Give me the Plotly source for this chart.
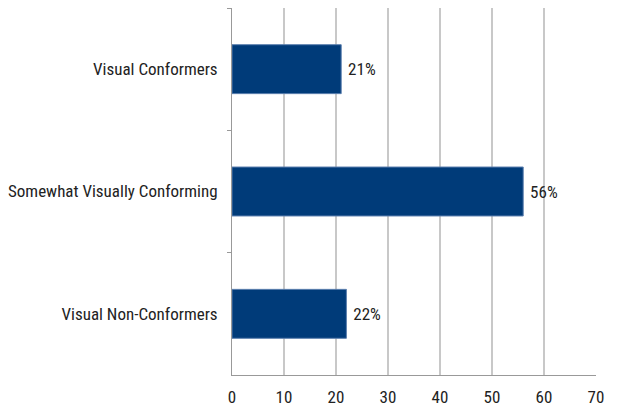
import plotly.graph_objects as go

categories = ["Visual Conformers", "Somewhat Visually Conforming", "Visual Non-Conformers"]
values = [21, 56, 22]
labels = ["21%", "56%", "22%"]
x_ticks = [0, 10, 20, 30, 40, 50, 60, 70]

font = "Liberation Sans Narrow, Arial Narrow, Roboto Condensed, Liberation Sans, sans-serif"

fig = go.Figure(go.Bar(
    y=categories, x=values, orientation="h",
    text=labels, texttemplate=" %{text}", textposition="outside", cliponaxis=False,
    textfont=dict(size=17, color="#222", family=font),
    marker=dict(color="#003B79", line=dict(color="#5b7fae", width=1)),
    width=0.4,
))

fig.update_layout(
    width=620, height=408,
    margin=dict(l=232, r=24, t=8, b=33),
    paper_bgcolor="white", plot_bgcolor="white",
    showlegend=False,
    font=dict(family=font, size=17, color="#222"),
)
fig.update_xaxes(
    range=[0, 70], tickvals=x_ticks, ticktext=[str(v) for v in x_ticks],
    showgrid=True, gridcolor="#c8c8c8", gridwidth=1.5,
    showline=True, linecolor="#999", linewidth=1,
    zeroline=False, ticks="", ticklabelstandoff=7, automargin=False,
    tickfont=dict(size=17, family=font, color="#222"),
)
fig.update_yaxes(
    autorange="reversed", categoryorder="array", categoryarray=categories,
    showline=True, linecolor="#999", linewidth=1,
    ticks="outside", tickson="boundaries", ticklen=4, tickcolor="#999",
    showgrid=False, ticklabelstandoff=10, automargin=False,
    tickfont=dict(size=17, family=font, color="#222"),
)

fig.write_html("out.html", config={"displayModeBar": False},
               post_script="document.body.style.margin='0';document.body.style.overflow='hidden';")
